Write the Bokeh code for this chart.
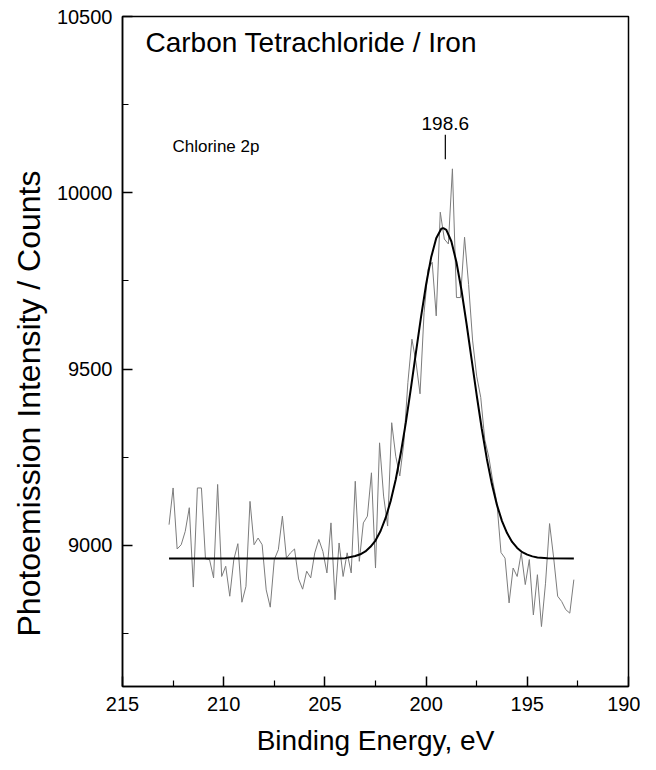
from bokeh.plotting import figure
from bokeh.models import Range1d, FixedTicker, Label, Title
from bokeh.embed import file_html
from bokeh.resources import INLINE

# ---- data ----
counts = [9059, 9163, 8990, 9002, 9040, 9107, 8882, 9163, 9163, 8962,
          8960, 8908, 9173, 8912, 8941, 8856, 8960, 9005, 8839, 8884,
          9125, 9002, 9021, 9002, 8874, 8825, 8960, 8988, 9083, 8964,
          8979, 8990, 8905, 8876, 8927, 8908, 8979, 9017, 8983, 8922,
          9064, 8846, 9007, 8912, 8979, 8922, 9182, 8955, 9064, 9083,
          9206, 8936, 9291, 9140, 9055, 9348, 9253, 9197, 9291, 9462,
          9585, 9520, 9430, 9660, 9784, 9803, 9651, 9945, 9869, 9855,
          10068, 9703, 9703, 9874, 9740, 9580, 9480, 9420, 9300, 9250,
          9180, 9120, 8980, 8964, 8837, 8936, 8912, 8979, 8889, 8960,
          8803, 8917, 8770, 8893, 9062, 8966, 8856, 8841, 8818, 8808,
          8903]
energy = [round(212.7 - 0.2 * i, 1) for i in range(len(counts))]

fit_energy = [212.7, 206.0, 204.5, 204.0, 203.5, 203.25, 203.0, 202.75, 202.5, 202.25,
              202.0, 201.75, 201.5, 201.25, 201.0, 200.75, 200.5, 200.25, 200.0, 199.75,
              199.5, 199.25, 199.15, 199.0, 198.75, 198.5, 198.25, 198.0, 197.75, 197.5,
              197.25, 197.0, 196.75, 196.5, 196.25, 196.0, 195.75, 195.5, 195.25, 195.0,
              194.75, 194.5, 194.0, 192.7]
fit_counts = [8963, 8963, 8963, 8964, 8970, 8975, 8983, 8996, 9014, 9041,
              9078, 9126, 9187, 9262, 9349, 9446, 9548, 9648, 9740, 9817,
              9871, 9898, 9900, 9895, 9862, 9803, 9723, 9628, 9527, 9426,
              9331, 9246, 9174, 9115, 9069, 9035, 9010, 8993, 8981, 8974,
              8969, 8966, 8964, 8963]

x_ticks = [215, 210, 205, 200, 195, 190]
x_minor = [212.5, 207.5, 202.5, 197.5, 192.5]
y_ticks = [9000, 9500, 10000, 10500]
y_minor = [8750, 9250, 9750, 10250]

peak_text = "198.6"
peak_mark_x = 199.05
peak_mark_y = [10095, 10165]

FONT = "Liberation Sans"

p = figure(frame_width=506, frame_height=670,
           x_range=Range1d(215, 190), y_range=Range1d(8600, 10500),
           min_border_left=122, min_border_right=12, min_border_top=16, min_border_bottom=66,
           output_backend="svg", toolbar_location=None)

p.grid.visible = False
p.outline_line_color = "black"
p.outline_line_width = 1.5
p.background_fill_color = "white"
p.border_fill_color = "white"

# data trace
p.line(energy, counts, line_color="#7c7c7c", line_width=1)
# fit
p.line(fit_energy, fit_counts, line_color="black", line_width=2)
# peak marker
p.segment(x0=[peak_mark_x], y0=[peak_mark_y[0]], x1=[peak_mark_x], y1=[peak_mark_y[1]],
          line_color="black", line_width=1.2)

for ax, ticks, minor in ((p.xaxis[0], x_ticks, x_minor), (p.yaxis[0], y_ticks, y_minor)):
    ax.ticker = FixedTicker(ticks=ticks, minor_ticks=minor)
    ax.major_tick_in = 10
    ax.major_tick_out = 0
    ax.minor_tick_in = 6
    ax.minor_tick_out = 0
    ax.axis_line_width = 1.5
    ax.major_tick_line_width = 1.5
    ax.minor_tick_line_width = 1.2
    ax.major_label_text_font = FONT
    ax.major_label_text_font_size = "20px"
    ax.major_label_text_color = "black"
    ax.axis_label_text_font = FONT
    ax.axis_label_text_font_size = "28px"
    ax.axis_label_text_font_style = "normal"
    ax.axis_label_text_color = "black"

p.xaxis.axis_label = "Binding Energy, eV"
p.xaxis.major_label_standoff = 10
p.xaxis.axis_label_standoff = 11
p.yaxis.major_label_standoff = 10

# y-axis title, starting near the bottom of the frame as in the original
p.add_layout(Title(text="Photoemission Intensity / Counts", text_font=FONT,
                   text_font_size="32px", text_font_style="normal", text_color="black",
                   align="left", offset=50, standoff=14), "left")

p.add_layout(Label(x=23, y=644, x_units="screen", y_units="screen",
                   text="Carbon Tetrachloride / Iron", text_font=FONT,
                   text_font_size="28px", text_baseline="middle", text_color="black"))
p.add_layout(Label(x=50, y=540, x_units="screen", y_units="screen",
                   text="Chlorine 2p", text_font=FONT,
                   text_font_size="17px", text_baseline="middle", text_color="black"))
p.add_layout(Label(x=peak_mark_x, y=peak_mark_y[1] + 12,
                   text=peak_text, text_font=FONT, text_align="center",
                   text_font_size="19px", text_baseline="bottom", text_color="black"))

open("out.html", "w").write(file_html(p, INLINE))
